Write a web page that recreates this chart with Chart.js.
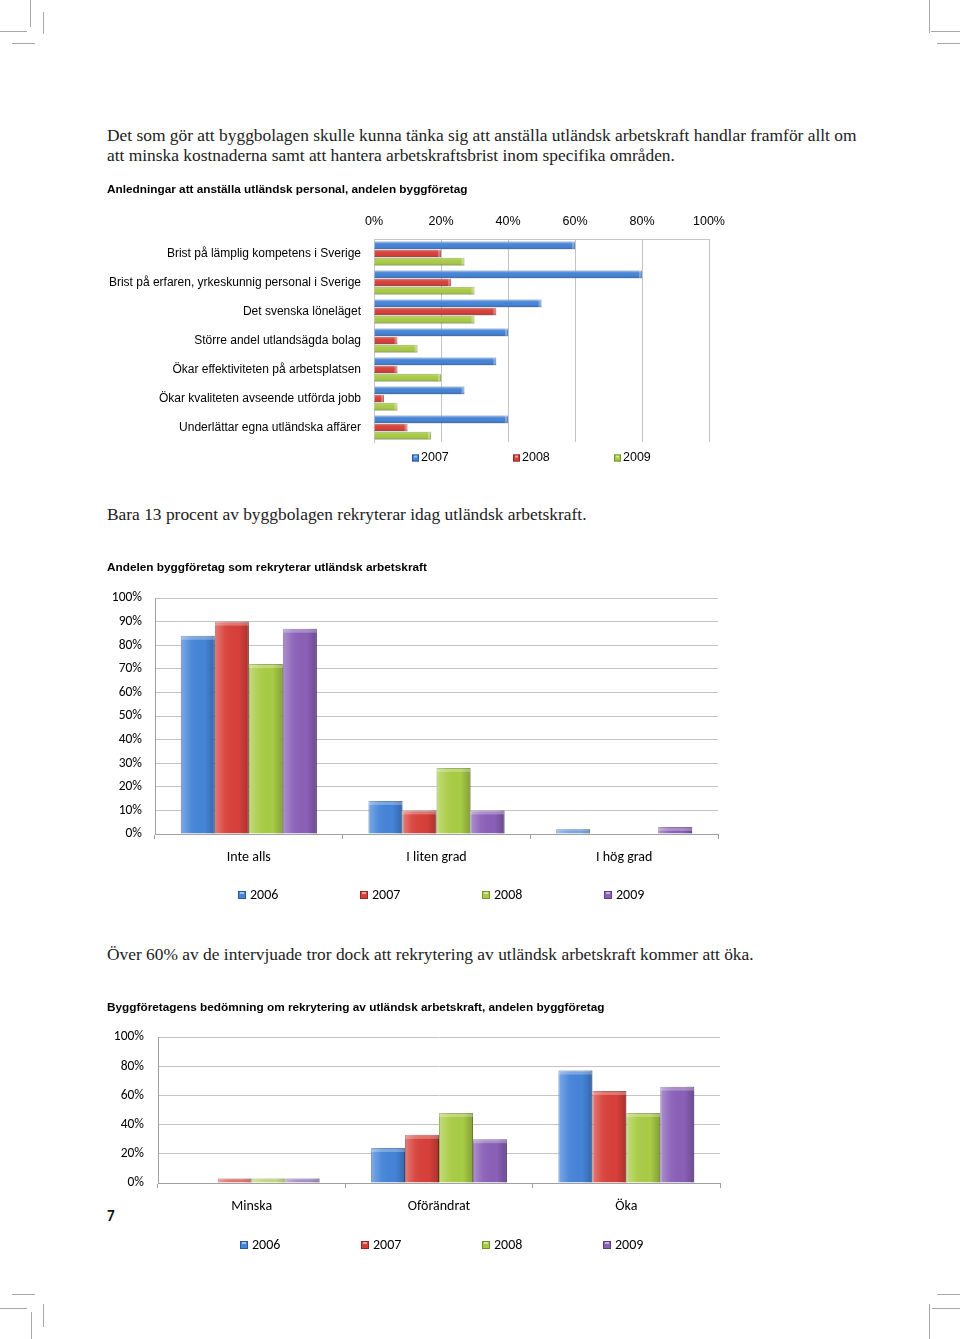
<!DOCTYPE html>
<html><head><meta charset="utf-8">
<script src="https://cdn.jsdelivr.net/npm/chart.js@4/dist/chart.umd.min.js"></script>
<style>
html,body{margin:0;padding:0;background:#fff;}
body{width:960px;height:1339px;position:relative;overflow:hidden;}
.p{position:absolute;left:107px;font-family:"Liberation Serif","Times New Roman",serif;font-size:17.4px;color:#222;white-space:nowrap;line-height:20px;}
.cm{position:absolute;background:#a8a8a8;}
canvas{position:absolute;}
.pg{position:absolute;left:107px;top:1207px;font-family:Carlito,Lato,sans-serif;font-weight:bold;font-size:15px;line-height:18px;color:#111;}
</style></head><body>
<div class="cm" style="left:30px;top:0;width:1px;height:27px"></div>
<div class="cm" style="left:0;top:31px;width:27px;height:1px"></div>
<div class="cm" style="left:43px;top:12px;width:1px;height:22px"></div>
<div class="cm" style="left:12px;top:43px;width:23px;height:1px"></div>
<div class="cm" style="left:929px;top:0;width:1px;height:33px"></div>
<div class="cm" style="left:931px;top:31px;width:29px;height:1px"></div>
<div class="cm" style="left:937px;top:43px;width:23px;height:1px"></div>
<div class="cm" style="left:12px;top:1294px;width:23px;height:1px"></div>
<div class="cm" style="left:0;top:1308px;width:27px;height:1px"></div>
<div class="cm" style="left:43px;top:1304px;width:1px;height:23px"></div>
<div class="cm" style="left:31px;top:1312px;width:1px;height:27px"></div>
<div class="cm" style="left:937px;top:1294px;width:23px;height:1px"></div>
<div class="cm" style="left:932px;top:1308px;width:28px;height:1px"></div>
<div class="cm" style="left:929px;top:1304px;width:1px;height:35px"></div>

<div class="p" style="top:125px">Det som gör att byggbolagen skulle kunna tänka sig att anställa utländsk arbetskraft handlar framför allt om</div>
<div class="p" style="top:145px">att minska kostnaderna samt att hantera arbetskraftsbrist inom specifika områden.</div>
<div class="p" style="top:504px">Bara 13 procent av byggbolagen rekryterar idag utländsk arbetskraft.</div>
<div class="p" style="top:944px">Över 60% av de intervjuade tror dock att rekrytering av utländsk arbetskraft kommer att öka.</div>
<div class="pg">7</div>

<canvas id="c1" width="620" height="300" style="left:107px;top:180px"></canvas>
<canvas id="c2" width="620" height="360" style="left:107px;top:555px"></canvas>
<canvas id="c3" width="620" height="265" style="left:107px;top:995px"></canvas>

<script>
// ---- Data ----
const reasonCategories = [
  'Brist på lämplig kompetens i Sverige',
  'Brist på erfaren, yrkeskunnig personal i Sverige',
  'Det svenska löneläget',
  'Större andel utlandsägda bolag',
  'Ökar effektiviteten på arbetsplatsen',
  'Ökar kvaliteten avseende utförda jobb',
  'Underlättar egna utländska affärer'
];
const reasonYears = ['2007', '2008', '2009'];
const reasons2007 = [60, 80, 50, 40, 36.5, 27, 40];
const reasons2008 = [20, 23, 36.5, 7, 7, 3, 10];
const reasons2009 = [27, 30, 30, 13, 20, 7, 17];

const recruitCategories = ['Inte alls', 'I liten grad', 'I hög grad'];
const recruitYears = ['2006', '2007', '2008', '2009'];
const recruit2006 = [84, 14, 2];
const recruit2007 = [90, 10, 0];
const recruit2008 = [72, 28, 0];
const recruit2009 = [87, 10, 3];

const outlookCategories = ['Minska', 'Oförändrat', 'Öka'];
const outlookYears = ['2006', '2007', '2008', '2009'];
const outlook2006 = [0, 24, 77];
const outlook2007 = [3, 33, 63];
const outlook2008 = [3, 48, 48];
const outlook2009 = [3, 30, 66];

const percentTickSuffix = '%';

// ---- Styles ----
const TITLEF = '"Liberation Sans",Arial,Helvetica,sans-serif';
const SANS = '"Liberation Sans",Arial,Helvetica,sans-serif';
const CALI = 'Carlito,Lato,"Open Sans",sans-serif';
const C = {
  blue: '#4584d8', blueE: '#2b5a9c',
  red: '#d8403a', redE: '#962824',
  green: '#a9cc45', greenE: '#74922a',
  purple: '#8a60b8', purpleE: '#5b3d80'
};

const shade = {
  id: 'shade',
  afterDatasetsDraw(chart) {
    const ctx = chart.ctx;
    const horiz = chart.options.indexAxis === 'y';
    ctx.save();
    chart.data.datasets.forEach((ds, di) => {
      const meta = chart.getDatasetMeta(di);
      meta.data.forEach(el => {
        const p = el.getProps(['x', 'y', 'base', 'width', 'height'], true);
        let l, r, t, b, g;
        if (horiz) {
          l = Math.min(p.x, p.base); r = Math.max(p.x, p.base);
          t = p.y - p.height / 2; b = p.y + p.height / 2;
          if (r - l < 0.5) return;
          g = ctx.createLinearGradient(0, t, 0, b);
        } else {
          l = p.x - p.width / 2; r = p.x + p.width / 2;
          t = Math.min(p.y, p.base); b = Math.max(p.y, p.base);
          if (b - t < 0.5) return;
          g = ctx.createLinearGradient(l, 0, r, 0);
        }
        g.addColorStop(0, 'rgba(255,255,255,0.30)');
        g.addColorStop(0.3, 'rgba(255,255,255,0.05)');
        g.addColorStop(0.7, 'rgba(0,0,0,0.0)');
        g.addColorStop(1, 'rgba(0,0,0,0.22)');
        ctx.fillStyle = g;
        ctx.fillRect(l, t, r - l, b - t);
        ctx.fillStyle = 'rgba(255,255,255,0.28)';
        if (horiz) ctx.fillRect(r - 3, t, 3, b - t);
        else ctx.fillRect(l, t, r - l, Math.min(4, b - t));
      });
    });
    ctx.restore();
  }
};

const swatchLegend = {
  id: 'swatchLegend',
  afterDraw(chart, args, o) {
    const { ctx, chartArea } = chart;
    const y = chartArea.bottom + o.offsetY;
    ctx.save();
    ctx.font = o.font;
    ctx.textBaseline = 'middle';
    ctx.textAlign = 'left';
    chart.data.datasets.forEach((ds, i) => {
      const x = o.startX + i * o.spacing;
      ctx.fillStyle = ds.backgroundColor;
      ctx.fillRect(x, y - o.box / 2, o.box, o.box);
      ctx.strokeStyle = ds.borderColor;
      ctx.lineWidth = 1;
      ctx.strokeRect(x + 0.5, y - o.box / 2 + 0.5, o.box - 1, o.box - 1);
      ctx.fillStyle = 'rgba(255,255,255,0.5)';
      ctx.fillRect(x + 2, y - o.box / 2 + 1, o.box - 4, 2);
      ctx.fillStyle = o.color;
      ctx.fillText(ds.label, x + o.box + o.gap, y);
    });
    ctx.restore();
  }
};

function mkds(label, data, bg, border, horiz) {
  return {
    label, data, backgroundColor: bg, borderColor: border,
    borderWidth: c => (c.raw > 0 ? 1 : 0),
    borderSkipped: horiz ? 'start' : 'bottom'
  };
}

const GRID = '#c4c4c4';
const TITLE_SIZE = 11.8;

// ---- Chart 1 ----
new Chart(document.getElementById('c1'), {
  type: 'bar',
  data: {
    labels: reasonCategories,
    datasets: [
      mkds(reasonYears[0], reasons2007, C.blue, C.blueE, true),
      mkds(reasonYears[1], reasons2008, C.red, C.redE, true),
      mkds(reasonYears[2], reasons2009, C.green, C.greenE, true)
    ]
  },
  options: {
    indexAxis: 'y',
    responsive: false, animation: false,
    layout: { padding: { left: 0, right: 18, top: 0, bottom: 38 } },
    datasets: { bar: { categoryPercentage: 0.84, barPercentage: 0.95 } },
    plugins: {
      legend: { display: false },
      tooltip: { enabled: false },
      title: {
        display: true, align: 'start',
        text: 'Anledningar att anställa utländsk personal, andelen byggföretag',
        color: '#000', font: { family: TITLEF, weight: 'bold', size: TITLE_SIZE },
        padding: { top: 3, bottom: 0 }
      },
      swatchLegend: { offsetY: 16, startX: 305, spacing: 101, box: 7, gap: 2, font: '12.5px ' + SANS, color: '#000' }
    },
    scales: {
      x: {
        position: 'top', min: 0, max: 100,
        afterFit: s => { s.height = 59 - 3 - TITLE_SIZE * 1.2; s.paddingLeft = 0; s.paddingRight = 0; },
        ticks: { stepSize: 20, padding: 10, color: '#000', font: { family: SANS, size: 12.5 }, callback: v => v + percentTickSuffix },
        grid: { color: GRID, drawTicks: false },
        border: { display: true, color: GRID }
      },
      y: {
        afterFit: s => { s.width = 267; },
        ticks: { padding: 13, color: '#000', font: { family: SANS, size: 12 } },
        grid: { display: false, drawTicks: false },
        border: { display: true, color: GRID }
      }
    }
  },
  plugins: [shade, swatchLegend]
});

// ---- Chart 2 ----
new Chart(document.getElementById('c2'), {
  type: 'bar',
  data: {
    labels: recruitCategories,
    datasets: [
      mkds(recruitYears[0], recruit2006, C.blue, C.blueE),
      mkds(recruitYears[1], recruit2007, C.red, C.redE),
      mkds(recruitYears[2], recruit2008, C.green, C.greenE),
      mkds(recruitYears[3], recruit2009, C.purple, C.purpleE)
    ]
  },
  options: {
    responsive: false, animation: false,
    layout: { padding: { left: 0, right: 9, top: 0, bottom: 51 } },
    datasets: { bar: { categoryPercentage: 0.725, barPercentage: 1.0 } },
    plugins: {
      legend: { display: false },
      tooltip: { enabled: false },
      title: {
        display: true, align: 'start',
        text: 'Andelen byggföretag som rekryterar utländsk arbetskraft',
        color: '#000', font: { family: TITLEF, weight: 'bold', size: TITLE_SIZE },
        padding: { top: 6, bottom: 43 - 6 - TITLE_SIZE * 1.2 }
      },
      swatchLegend: { offsetY: 61, startX: 131, spacing: 122, box: 8, gap: 4, font: '14px ' + CALI, color: '#000' }
    },
    scales: {
      y: {
        min: 0, max: 100,
        afterFit: s => { s.width = 48; },
        ticks: { stepSize: 10, padding: 13, color: '#000', font: { family: CALI, size: 13.5 }, callback: v => v + percentTickSuffix },
        grid: { color: GRID, drawTicks: false },
        border: { display: true, color: '#a0a0a0' }
      },
      x: {
        afterFit: s => { s.height = 30; },
        ticks: { padding: 10, color: '#000', font: { family: CALI, size: 14 } },
        grid: { drawOnChartArea: false, drawTicks: true, tickLength: 5, color: '#a0a0a0', offset: true },
        border: { display: true, color: '#a0a0a0' }
      }
    }
  },
  plugins: [shade, swatchLegend]
});

// ---- Chart 3 ----
new Chart(document.getElementById('c3'), {
  type: 'bar',
  data: {
    labels: outlookCategories,
    datasets: [
      mkds(outlookYears[0], outlook2006, C.blue, C.blueE),
      mkds(outlookYears[1], outlook2007, C.red, C.redE),
      mkds(outlookYears[2], outlook2008, C.green, C.greenE),
      mkds(outlookYears[3], outlook2009, C.purple, C.purpleE)
    ]
  },
  options: {
    responsive: false, animation: false,
    layout: { padding: { left: 0, right: 7, top: 0, bottom: 47 } },
    datasets: { bar: { categoryPercentage: 0.725, barPercentage: 1.0 } },
    plugins: {
      legend: { display: false },
      tooltip: { enabled: false },
      title: {
        display: true, align: 'start',
        text: 'Byggföretagens bedömning om rekrytering av utländsk arbetskraft, andelen byggföretag',
        color: '#000', font: { family: TITLEF, weight: 'bold', size: TITLE_SIZE },
        padding: { top: 6, bottom: 42 - 6 - TITLE_SIZE * 1.2 }
      },
      swatchLegend: { offsetY: 62, startX: 133, spacing: 121, box: 8, gap: 4, font: '14px ' + CALI, color: '#000' }
    },
    scales: {
      y: {
        min: 0, max: 100,
        afterFit: s => { s.width = 51; },
        ticks: { stepSize: 20, padding: 14, color: '#000', font: { family: CALI, size: 13.5 }, callback: v => v + percentTickSuffix },
        grid: { color: GRID, drawTicks: false },
        border: { display: true, color: '#a0a0a0' }
      },
      x: {
        afterFit: s => { s.height = 30; },
        ticks: { padding: 10, color: '#000', font: { family: CALI, size: 14 } },
        grid: { drawOnChartArea: false, drawTicks: true, tickLength: 5, color: '#a0a0a0', offset: true },
        border: { display: true, color: '#a0a0a0' }
      }
    }
  },
  plugins: [shade, swatchLegend]
});
</script>
</body></html>
